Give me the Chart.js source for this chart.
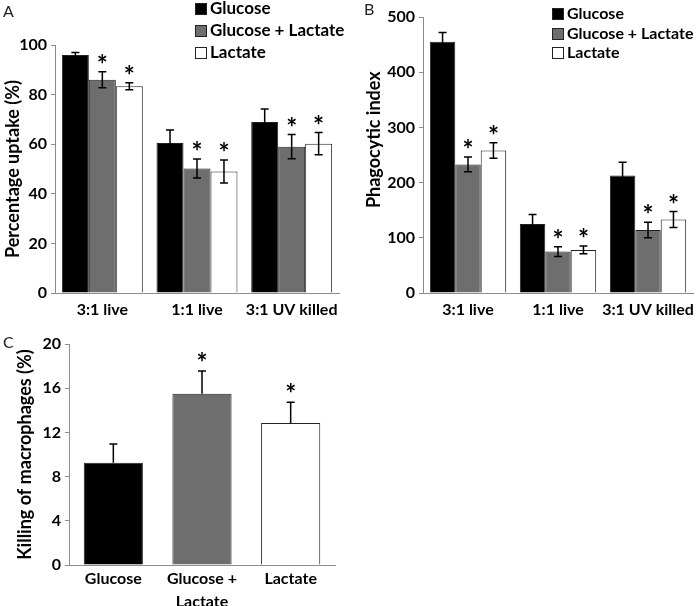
<!DOCTYPE html>
<html>
<head>
<meta charset="utf-8">
<script src="https://cdn.jsdelivr.net/npm/chart.js@4.4.1/dist/chart.umd.min.js"></script>
<style>
  body { margin: 0; background: #fff; }
  #wrap { position: relative; width: 700px; height: 606px; overflow: hidden; font-family: Lato, sans-serif; }
  canvas { position: absolute; }
  .panel { position: absolute; font-size: 16px; color: #222; line-height: 16px; }
  .leg { position: absolute; font-weight: bold; color: #000; white-space: nowrap; }
  .leg i { display: inline-block; width: 10px; height: 10px; border: 1px solid #222; margin-right: 3px; vertical-align: -1px; }
</style>
</head>
<body>
<div id="wrap">
  <canvas id="chartA" width="350" height="320" style="left:0;top:0"></canvas>
  <canvas id="chartB" width="350" height="320" style="left:350px;top:0"></canvas>
  <canvas id="chartC" width="350" height="286" style="left:0;top:320px"></canvas>
  <div class="panel" style="left:3px;top:3px">A</div>
  <div class="panel" style="left:364px;top:1px">B</div>
  <div class="panel" style="left:3px;top:334px">C</div>
</div>
<script>
// data
const categories = ["3:1 live", "1:1 live", "3:1 UV killed"];
const seriesNames = ["Glucose", "Glucose + Lactate", "Lactate"];
const seriesColors = ["#000000", "#6e6e6e", "#ffffff"];

// A: percentage uptake
const uptakeGlucose = [96, 60.5, 69];
const uptakeGlucoseLactate = [86, 50.2, 59];
const uptakeLactate = [83.4, 49, 60.2];
const uptakeErrGlucose = [1, 5.2, 5.2];
const uptakeErrGlucoseLactate = [3.2, 3.8, 4.9];
const uptakeErrLactate = [1.4, 4.6, 4.5];
const uptakeTicks = [0, 20, 40, 60, 80, 100];

// B: phagocytic index
const phagoGlucose = [455, 125, 213];
const phagoGlucoseLactate = [233, 75, 114];
const phagoLactate = [258, 78, 133];
const phagoErrGlucose = [17, 17, 24];
const phagoErrGlucoseLactate = [13.5, 9, 14];
const phagoErrLactate = [14, 7, 14.5];
const phagoTicks = [0, 100, 200, 300, 400, 500];

// significance marks per series
const starsGlucose = [false, false, false];
const starsGlucoseLactate = [true, true, true];
const starsLactate = [true, true, true];

// C: killing of macrophages
const killingCategories = ["Glucose", "Glucose + Lactate", "Lactate"];
const killingValues = [9.25, 15.5, 12.85];
const killingErr = [1.7, 2.05, 1.87];
const killingStars = [false, true, true];
const killingTicks = [0, 4, 8, 12, 16, 20];

const FONT = "Lato";

const errorBarPlugin = {
  id: "errorBars",
  afterDatasetsDraw(chart, args, opts) {
    const ctx = chart.ctx;
    const y = chart.scales.y;
    ctx.save();
    chart.data.datasets.forEach((ds, di) => {
      const meta = chart.getDatasetMeta(di);
      meta.data.forEach((bar, i) => {
        const v = ds.data[i];
        const e = opts.errors[di][i];
        const top = y.getPixelForValue(v + e);
        const bot = opts.oneSided ? y.getPixelForValue(v) : y.getPixelForValue(v - e);
        const cap = opts.cap;
        ctx.strokeStyle = "#000";
        ctx.lineWidth = 1.5;
        ctx.beginPath();
        ctx.moveTo(bar.x, top);
        ctx.lineTo(bar.x, bot);
        ctx.moveTo(bar.x - cap, top);
        ctx.lineTo(bar.x + cap, top);
        if (!opts.oneSided) {
          ctx.moveTo(bar.x - cap, bot);
          ctx.lineTo(bar.x + cap, bot);
        }
        ctx.stroke();
        if (opts.stars[di][i]) {
          ctx.fillStyle = "#000";
          ctx.font = "bold 26px " + FONT;
          ctx.textAlign = "center";
          ctx.textBaseline = "alphabetic";
          ctx.fillText("*", bar.x, top + opts.starShift);
        }
      });
    });
    ctx.restore();
  }
};

function yAxis(ticks, title, width, titlePad) {
  return {
    min: ticks[0],
    max: ticks[ticks.length - 1],
    afterBuildTicks: (s) => { s.ticks = ticks.map((t) => ({ value: t })); },
    afterFit: (s) => { s.width = width; },
    grid: { drawOnChartArea: false, drawTicks: true, tickLength: 4, color: "#8c8c8c", lineWidth: 1 },
    border: { color: "#8c8c8c", width: 1 },
    ticks: { color: "#000", padding: 4, font: { family: FONT, size: 16, weight: "bold" } },
    title: { display: true, text: title, color: "#000", padding: { top: titlePad, bottom: 0 },
             font: { family: FONT, size: 18, weight: "bold" } }
  };
}

function xAxis(labels, height, labelPad) {
  return {
    afterFit: (s) => { s.height = height; },
    grid: { display: false, drawTicks: false },
    border: { display: true, color: "#8c8c8c", width: 1 },
    ticks: {
      color: "#000", padding: labelPad, maxRotation: 0, autoSkip: false,
      font: { family: FONT, size: 16, weight: "bold", lineHeight: 1.4 },
      callback: function (v, i) {
        const l = labels[i];
        return l.includes(" + ") ? [l.split(" + ")[0] + " +", l.split(" + ")[1]] : l;
      }
    }
  };
}

function groupedChart(id, values, errors, ticks, title, yWidth, titlePad, padding, catPct) {
  return new Chart(document.getElementById(id).getContext("2d"), {
    type: "bar",
    data: {
      labels: categories,
      datasets: values.map((vals, i) => ({
        label: seriesNames[i],
        data: vals,
        backgroundColor: seriesColors[i],
        borderColor: "#222",
        borderWidth: 1,
        borderSkipped: "bottom",
        categoryPercentage: catPct,
        barPercentage: 1
      }))
    },
    options: {
      responsive: false,
      animation: false,
      devicePixelRatio: 1,
      layout: { padding: padding },
      scales: { x: xAxis(categories, 27, 6), y: yAxis(ticks, title, yWidth, titlePad) },
      plugins: {
        legend: { display: false },
        tooltip: { enabled: false },
        errorBars: { errors: errors, stars: [starsGlucose, starsGlucoseLactate, starsLactate], oneSided: false, cap: 4, starShift: 2 }
      }
    },
    plugins: [errorBarPlugin]
  });
}

groupedChart("chartA",
  [uptakeGlucose, uptakeGlucoseLactate, uptakeLactate],
  [uptakeErrGlucose, uptakeErrGlucoseLactate, uptakeErrLactate],
  uptakeTicks, "Percentage uptake (%)", 55, 2,
  { left: 0, top: 45, right: 11, bottom: 0 }, 0.855);

groupedChart("chartB",
  [phagoGlucose, phagoGlucoseLactate, phagoLactate],
  [phagoErrGlucose, phagoErrGlucoseLactate, phagoErrLactate],
  phagoTicks, "\u00a0".repeat(7) + "Phagocytic index", 73, 13,
  { left: 0, top: 17, right: 1, bottom: 0 }, 0.848);

new Chart(document.getElementById("chartC").getContext("2d"), {
  type: "bar",
  data: {
    labels: killingCategories,
    datasets: [{
      label: "Killing of macrophages",
      data: killingValues,
      backgroundColor: seriesColors,
      borderColor: "#222",
      borderWidth: 1,
      borderSkipped: "bottom",
      categoryPercentage: 1,
      barPercentage: 0.667
    }]
  },
  options: {
    responsive: false,
    animation: false,
    devicePixelRatio: 1,
    layout: { padding: { left: 0, top: 24, right: 15, bottom: 0 } },
    scales: {
      x: xAxis(killingCategories, 41, 3),
      y: yAxis(killingTicks, "Killing of macrophages (%)", 69, 14)
    },
    plugins: {
      legend: { display: false },
      tooltip: { enabled: false },
      errorBars: { errors: [killingErr], stars: [killingStars], oneSided: true, cap: 4, starShift: 1 }
    }
  },
  plugins: [errorBarPlugin]
});

// legends for A and B
function buildLegend(left, top, rowH, size) {
  const wrap = document.getElementById("wrap");
  seriesNames.forEach((name, i) => {
    const d = document.createElement("div");
    d.className = "leg";
    d.style.left = left + "px";
    d.style.top = (top + i * rowH) + "px";
    d.style.fontSize = size + "px";
    d.style.lineHeight = rowH + "px";
    d.innerHTML = '<i style="background:' + seriesColors[i] + '"></i>';
    d.appendChild(document.createTextNode(name));
    wrap.appendChild(d);
  });
}
buildLegend(195, -3, 22, 17);
buildLegend(552, 3, 19.7, 16);
</script>
</body>
</html>
